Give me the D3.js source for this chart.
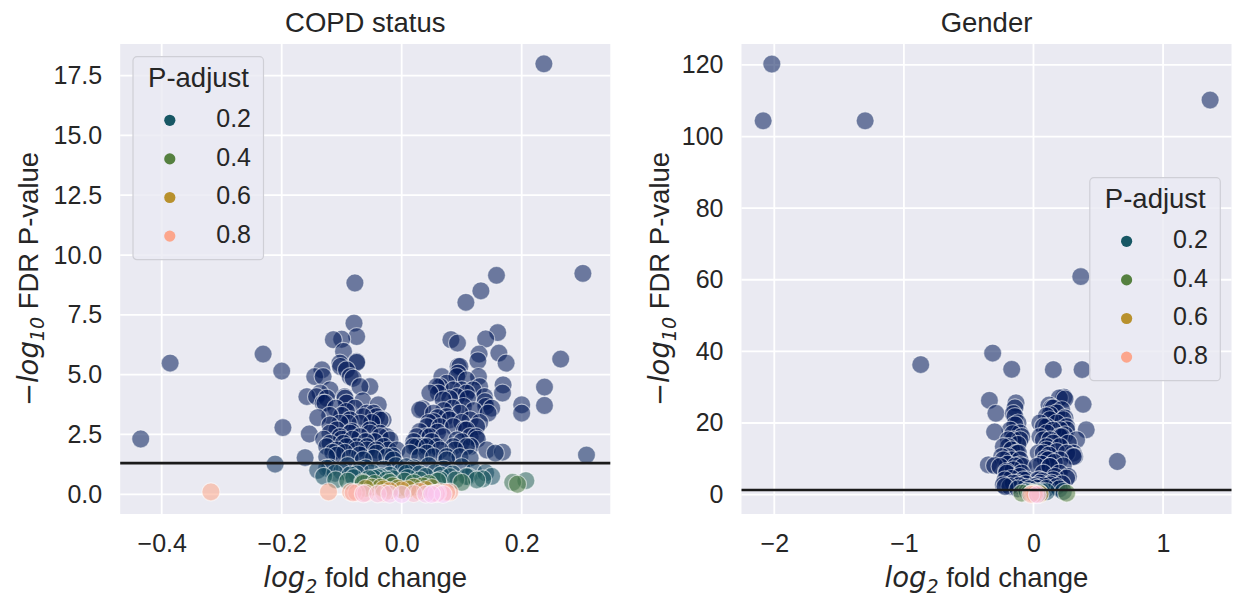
<!DOCTYPE html>
<html><head><meta charset="utf-8">
<script src="https://cdn.jsdelivr.net/npm/d3@7"></script>
<style>
body{margin:0;background:#fff;}
svg{display:block;}
text{font-family:"Liberation Sans",Arial,sans-serif;fill:#262626;}
</style>
</head><body>
<svg id="c" width="1233" height="601"></svg>
<script>
// ---------------- DATA ----------------
const panelTitles = ["COPD status", "Gender"];
const legendTitle = "P-adjust";
const legendValues = [0.2, 0.4, 0.6, 0.8];
const fdrThreshold = 0.05;

const copdXTicks = [-0.4, -0.2, 0.0, 0.2];
const copdYTicks = [0, 2.5, 5, 7.5, 10, 12.5, 15, 17.5];
const genderXTicks = [-2, -1, 0, 1];
const genderYTicks = [0, 20, 40, 60, 80, 100, 120];

// [log2 fold change, -log10 FDR P-value]
const copdPoints = [
  [0.237,17.99],[-0.078,8.83],[0.158,9.15],[0.132,8.5],[0.107,8.02],[0.302,9.23],
  [-0.435,2.31],[-0.386,5.48],[-0.231,5.86],[-0.200,5.15],[-0.198,2.79],[-0.211,1.26],
  [-0.161,1.53],[-0.154,2.52],[-0.318,0.10],[-0.122,0.10],
  [0.265,5.65],[0.238,4.48],[0.238,3.71],[0.200,3.74],[0.200,3.39],[0.308,1.64],
  [0.185,0.50],[0.193,0.42],[0.207,0.57],[0.111,0.74],[0.135,0.64],
  [-0.0795,7.15],[-0.075,6.59],[-0.100,6.48],[-0.097,5.97],[-0.075,5.51],[-0.102,5.34],
  [-0.133,5.2],[-0.145,4.92],[-0.131,4.92],[-0.081,4.85],[-0.053,4.5],[-0.158,4.08],
  [-0.136,4.23],[-0.125,4.02],[-0.131,3.81],[-0.095,4.08],[-0.092,3.81],[-0.039,3.74],
  [-0.058,3.39],[-0.042,3.25],[-0.031,3.11],[-0.0695,2.97],[-0.053,2.69],[-0.036,2.55],
  [-0.025,2.41],[-0.1195,2.9],[-0.108,2.69],[-0.089,2.97],[-0.083,2.62],
  [-0.1195,2.13],[-0.097,2.13],[-0.075,1.99],[-0.058,1.85],[-0.042,1.72],[-0.022,1.85],
  [-0.125,1.57],[-0.108,1.64],[-0.086,1.51],[-0.064,1.44],[-0.047,1.51],[-0.025,1.57],[-0.014,1.44],
  [-0.128,3.81],[-0.142,4.08],[-0.1195,4.36],[-0.0945,4.02],[-0.092,3.46],[-0.0695,4.5],
  [-0.103,2.97],[-0.086,3.11],[-0.064,3.25],[-0.047,3.39],[-0.036,3.11],
  [-0.1195,2.55],[-0.103,2.41],[-0.086,2.55],[-0.0695,2.41],[-0.053,2.55],[-0.036,2.41],[-0.0195,2.27],
  [-0.125,1.99],[-0.108,1.85],[-0.092,1.99],[-0.075,1.85],[-0.058,1.99],[-0.042,1.85],[-0.008,1.85],
  [-0.114,6.46],[-0.103,5.48],[-0.092,5.2],[-0.075,5.55],[-0.086,4.92],
  [-0.11,3.6],[-0.1,3.3],[-0.078,3.6],[-0.065,3.9],[-0.05,3.0],[-0.045,2.2],[-0.03,2.0],
  [-0.015,1.6],[-0.13,2.3],[-0.14,3.2],[-0.115,1.75],[-0.095,1.75],[-0.07,1.65],[-0.1,2.3],
  [-0.082,2.3],[-0.06,2.2],[-0.12,3.3],
  [0.082,6.46],[0.093,6.32],[0.140,6.49],[0.160,6.76],[0.129,5.86],[0.127,5.58],[0.128,4.92],
  [0.162,5.9],[0.174,5.48],[0.169,4.57],[0.168,4.23],[0.144,3.39],[0.139,3.87],[0.094,5.34],
  [0.094,5.06],[0.067,4.92],[0.064,4.5],[0.061,4.23],[0.035,3.57],[0.1,4.36],[0.103,3.67],
  [0.053,3.04],[0.080,3.11],[0.105,2.69],[0.126,2.3],[0.030,2.62],[0.041,2.41],[0.025,1.99],
  [0.058,1.99],[0.089,1.85],[0.156,1.72],[0.168,1.76],[0.114,1.51],[0.075,1.44],[0.014,1.72],[0.042,1.72],
  [0.058,4.5],[0.075,4.64],[0.097,5.34],[0.092,4.92],[0.108,4.78],[0.086,4.36],[0.047,4.23],
  [0.069,3.95],[0.092,4.08],[0.108,4.23],[0.119,4.36],
  [0.03,3.53],[0.053,3.39],[0.075,3.25],[0.097,3.39],[0.114,3.11],[0.042,2.83],[0.064,2.83],
  [0.086,2.83],[0.108,2.69],[0.125,2.83],
  [0.025,2.41],[0.047,2.41],[0.069,2.41],[0.092,2.27],[0.114,2.41],[0.019,1.99],[0.042,1.99],
  [0.064,1.85],[0.086,1.99],[0.108,1.99],
  [0.03,1.57],[0.053,1.57],[0.075,1.57],[0.097,1.57],
  [0.138,4.08],[0.14,3.67],[0.124,2.41],[0.142,1.85],
  [0.02,2.2],[0.035,2.0],[0.05,2.2],[0.06,2.6],[0.07,3.5],[0.085,3.6],[0.1,3.0],[0.12,3.5],
  [0.13,3.0],[0.115,2.0],[0.1,2.2],[0.06,3.2],[0.045,3.0],[0.08,4.0],[0.11,4.0],[0.13,4.5],[0.15,3.6],
  [0.008,1.15],[0.019,1.02],[0.08,0.74],[0.064,0.6],[0.03,0.6],[-0.125,1.09],[-0.111,0.88],
  [-0.086,0.81],[-0.0695,1.02],[-0.047,0.67],[-0.036,0.74],[-0.064,0.46],[-0.025,0.6],[0.008,0.88],
  [-0.12,1.1],[-0.1,0.95],[-0.09,1.2],[-0.075,0.85],[-0.06,1.1],[-0.05,0.9],[-0.04,0.7],
  [-0.03,1.05],[-0.02,0.8],[-0.01,1.2],[0,0.95],[0.01,0.7],[0.02,1.1],[0.03,0.85],[0.045,1.2],
  [0.055,0.9],[0.07,1.05],[0.085,0.85],[0.1,1.15],[0.12,0.95],[0.06,0.55],[-0.065,0.5],
  [-0.045,0.45],[0.045,0.45],[-0.02,0.5],[0.02,0.48],[0.108,0.74],[0.125,0.6],
  [-0.13,0.75],[-0.11,0.6],[-0.09,0.55],[-0.08,0.7],[-0.055,0.65],[0.04,0.75],[0.065,0.8],
  [0.09,0.6],[0.1,0.5],[0.14,0.9],[0.15,0.75],[-0.14,1.0],[-0.015,0.65],[0.005,0.55],
  [-0.05,0.3],[-0.03,0.22],[0,0.18],[0.02,0.3],[0.04,0.2],[-0.015,0.35],[0.03,0.12],
  [-0.006,0.26],[0.01,0.22],[-0.035,0.3],[0.035,0.35],[0.05,0.28],[-0.06,0.25],[-0.02,0.15],
  [-0.081,0.06],[-0.064,0.02],[0.058,0.03],[0.069,0.0],[-0.06,0.05],[-0.04,0.02],[-0.02,0.01],
  [0,0.0],[0.02,0.03],[0.04,0.01],[0.06,0.05],[0.075,0.08],[-0.075,0.07],[0.05,0.0],
  [-0.03,0.04],[-0.085,0.1],[0.065,0.1],[0.08,0.09],[0.053,0.04]
];

const genderPoints = [
  [-2.019,120.25],[-2.086,104.4],[-1.299,104.4],[1.363,110.2],[0.365,60.9],[-0.87,36.3],
  [-0.315,39.5],[-0.168,35.0],[0.153,34.9],[0.375,34.9],[0.647,9.25],[0.407,18.1],[0.383,25.2],
  [-0.34,26.3],[-0.29,22.7],[-0.3,17.5],[-0.348,8.3],[-0.30,8.1],
  [-0.135,25.6],[-0.156,22.6],[-0.143,24.2],[-0.143,21.8],[0.235,27.2],[0.243,26.7],[0.218,23.7],
  [0.14,24.2],[0.127,20.9],[0.102,19.0],[0.179,20.0],[0.243,21.4],[0.153,24.2],[0.127,22.3],
  [0.076,19.0],[0.230,20.9],[0.256,19.0],[0.243,16.7],[0.269,14.4],[0.307,11.6],[0.318,10.6],[0.256,4.6],
  [-0.143,19.5],[-0.09,16.2],[-0.156,15.3],[-0.194,13.4],[-0.13,11.6],[-0.168,9.7],[-0.104,8.3],
  [-0.104,17.2],[-0.104,15.3],[-0.194,15.3],[-0.168,12.5],[-0.194,10.6],[-0.117,11.6],[-0.104,9.7],
  [-0.079,7.85],[-0.156,6.9],[-0.104,5.06],[-0.052,4.13],[-0.130,3.2],[-0.182,2.26],[-0.233,9.7],
  [-0.207,6.45],[-0.22,4.13],[-0.156,3.2],[-0.079,4.13],[-0.233,13.4],[-0.246,10.6],[-0.258,7.85],
  [-0.207,6.0],[-0.233,2.7],[-0.22,2.26],
  [-0.18,18],[-0.16,17],[-0.12,14],[-0.14,8],[-0.2,8.5],[-0.09,6],[-0.06,3],[-0.11,2.5],
  [-0.17,4.5],[-0.12,20],
  [0.05,20.0],[0.076,15.3],[0.037,11.6],[0.102,12.5],[0.153,14.4],[0.204,16.2],[0.256,18.1],
  [0.025,7.85],[0.076,6.0],[0.127,7.85],[0.204,9.7],[0.256,11.6],[0.153,4.13],[0.05,4.13],
  [0.269,5.06],[0.307,10.6],[0.333,15.3],
  [0.102,17.2],[0.127,15.3],[0.102,13.4],[0.076,11.6],[0.114,9.7],[0.127,7.85],[0.037,4.13],
  [0.14,3.2],[0.166,5.06],[0.204,18.1],[0.218,16.2],[0.204,13.4],[0.179,22.8],[0.05,16.2],
  [0.05,3.2],[0.127,2.7],[0.179,2.26],
  [0.06,8.5],[0.09,10],[0.12,11],[0.16,9],[0.18,12],[0.2,6],[0.23,8],[0.15,18],[0.1,22],
  [0.12,25],[0.2,27],[0.03,2.5],[0.07,3.8],
  [-0.06,2.0],[-0.03,1.6],[0.0,2.2],[0.03,1.8],[0.08,2.4],[0.1,1.7],[-0.12,1.6],[0.2,1.6],[0.22,3.0],
  [0.23,0.87],[0.256,0.4],[-0.09,0.4],[0.025,0.87],[0,0.5],[-0.01,0.25],[0.01,0.1],[0.02,0.3],
  [-0.03,0.6],[0.04,0.6],[0.05,0.2],[-0.02,0.05],[0.0,0.15],[0.03,0.0],[0.06,0.9],[-0.05,0.9],[0.1,0.8]
];

// ---------------- DRAWING ----------------
const svg = d3.select("#c");
const MATH = "'DejaVu Sans', sans-serif";
const TEXT = "'Liberation Sans', Arial, sans-serif";

// batlow-like palette for P-adjust
const color = d3.scaleLinear()
  .domain([0, 0.1, 0.2, 0.3, 0.4, 0.5, 0.6, 0.7, 0.8, 0.9, 1.0])
  .range(["#011959","#0e3c60","#175764","#2f6b55","#55803f","#868935","#b8912d","#e49b5b","#fca68c","#fcb8bb","#facbfa"])
  .interpolate(d3.interpolateRgb)
  .clamp(true);

const fmt1 = d3.format(".1f");
const fmtInt = d3.format("d");

function addYLabel(g, xb, yc) {
  const t = g.append("text")
    .attr("transform", `translate(${xb},${yc}) rotate(-90)`)
    .attr("text-anchor", "middle")
    .attr("font-size", 27.5);
  t.append("tspan").attr("font-family", MATH).text("\u2212");
  t.append("tspan").attr("font-family", MATH).attr("font-style", "italic").text("log");
  t.append("tspan").attr("font-family", MATH).attr("font-style", "italic").attr("font-size", 19).attr("dy", 6.5).text("10");
  t.append("tspan").attr("font-family", TEXT).attr("dy", -6.5).text("\u00a0FDR P-value");
}
function addXLabel(g, xc, yb) {
  const t = g.append("text")
    .attr("x", xc).attr("y", yb)
    .attr("text-anchor", "middle")
    .attr("font-size", 27.5);
  t.append("tspan").attr("font-family", MATH).attr("font-style", "italic").text("log");
  t.append("tspan").attr("font-family", MATH).attr("font-style", "italic").attr("font-size", 19).attr("dy", 6.5).text("2");
  t.append("tspan").attr("font-family", TEXT).attr("dy", -6.5).text("\u00a0fold change");
}

function panel(cfg, idx) {
  const {left, right, top, bottom, xDomain, yDomain, xTicks, yTicks, xFmt, yFmt, points, title, legendPos, ylabelX} = cfg;
  const x = d3.scaleLinear().domain(xDomain).range([left, right]);
  const y = d3.scaleLinear().domain(yDomain).range([bottom, top]);
  const g = svg.append("g");

  g.append("rect").attr("x", left).attr("y", top)
    .attr("width", right - left).attr("height", bottom - top).attr("fill", "#eaeaf2");

  const clipId = "clip" + idx;
  g.append("clipPath").attr("id", clipId).append("rect")
    .attr("x", left).attr("y", top).attr("width", right - left).attr("height", bottom - top);

  // grid
  g.append("g").selectAll("line").data(xTicks).join("line")
    .attr("x1", d => x(d)).attr("x2", d => x(d)).attr("y1", top).attr("y2", bottom)
    .attr("stroke", "#fff").attr("stroke-width", 1.8);
  g.append("g").selectAll("line").data(yTicks).join("line")
    .attr("y1", d => y(d)).attr("y2", d => y(d)).attr("x1", left).attr("x2", right)
    .attr("stroke", "#fff").attr("stroke-width", 1.8);

  // axes (labels only)
  const xa = g.append("g").attr("transform", `translate(0,${bottom})`)
    .call(d3.axisBottom(x).tickValues(xTicks).tickFormat(xFmt).tickSize(0).tickPadding(20));
  xa.select(".domain").remove();
  xa.selectAll("text").attr("font-family", TEXT).attr("font-size", 25).attr("fill", "#262626");

  const ya = g.append("g").attr("transform", `translate(${left},0)`)
    .call(d3.axisLeft(y).tickValues(yTicks).tickFormat(yFmt).tickSize(0).tickPadding(18));
  ya.select(".domain").remove();
  ya.selectAll("text").attr("font-family", TEXT).attr("font-size", 25).attr("fill", "#262626");

  // points
  const pts = points.slice().sort((a, b) => b[1] - a[1]);
  g.append("g").attr("clip-path", `url(#${clipId})`)
    .selectAll("circle").data(pts).join("circle")
    .attr("cx", d => x(d[0])).attr("cy", d => y(d[1]))
    .attr("r", 9)
    .attr("fill", d => color(Math.pow(10, -d[1])))
    .attr("fill-opacity", 0.55)
    .attr("stroke", "#fff").attr("stroke-opacity", 0.55).attr("stroke-width", 1.2);

  // significance threshold
  g.append("line")
    .attr("x1", left).attr("x2", right)
    .attr("y1", y(-Math.log10(fdrThreshold))).attr("y2", y(-Math.log10(fdrThreshold)))
    .attr("stroke", "#1a1a1a").attr("stroke-width", 2.6);

  // title
  g.append("text").attr("x", (left + right) / 2).attr("y", 31.7)
    .attr("text-anchor", "middle").attr("font-size", 27.5).text(title);

  addXLabel(g, (left + right) / 2, 586.7);
  addYLabel(g, ylabelX, (top + bottom) / 2);

  // legend
  const lg = g.append("g").attr("transform", `translate(${legendPos[0]},${legendPos[1]})`);
  lg.append("rect").attr("width", 130.5).attr("height", 203).attr("rx", 4)
    .attr("fill", "#eaeaf2").attr("fill-opacity", 0.8)
    .attr("stroke", "#cfcfd6").attr("stroke-width", 1.2);
  lg.append("text").attr("x", 65.5).attr("y", 30.6).attr("text-anchor", "middle")
    .attr("font-size", 27.5).text(legendTitle);
  const items = lg.selectAll("g.item").data(legendValues).join("g").attr("class", "item")
    .attr("transform", (d, i) => `translate(0,${63.6 + i * 38.6})`);
  items.append("circle").attr("cx", 36.8).attr("cy", 0).attr("r", 5.6)
    .attr("fill", d => color(d));
  items.append("text").attr("x", 118).attr("y", 6.8).attr("text-anchor", "end")
    .attr("font-size", 25).text(d => fmt1(d));
}

panel({
  left: 120.2, right: 610.3, top: 44, bottom: 514,
  xDomain: [-0.4692, 0.3477], yDomain: [-0.824, 18.82],
  xTicks: copdXTicks, yTicks: copdYTicks, xFmt: fmt1, yFmt: fmt1,
  points: copdPoints, title: panelTitles[0], legendPos: [133, 56.7], ylabelX: 37.7
}, 0);

panel({
  left: 741.5, right: 1231.5, top: 44, bottom: 514,
  xDomain: [-2.253, 1.528], yDomain: [-5.42, 125.85],
  xTicks: genderXTicks, yTicks: genderYTicks, xFmt: fmtInt, yFmt: fmtInt,
  points: genderPoints, title: panelTitles[1], legendPos: [1089.8, 177.7], ylabelX: 669
}, 1);
</script>
</body></html>
